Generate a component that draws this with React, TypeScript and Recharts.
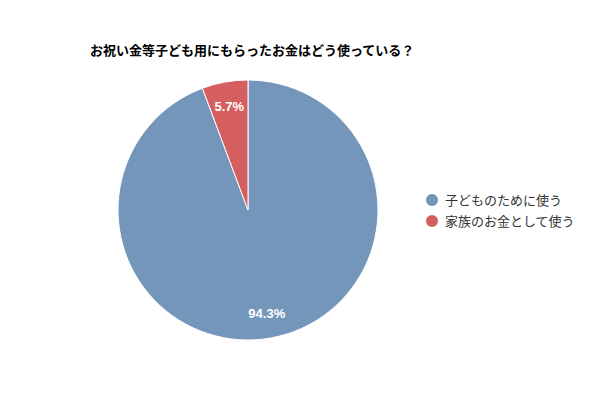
import { Cell, Pie, PieChart } from "recharts";

const categories = ["子どものために使う", "家族のお金として使う"];
const shares = [94.3, 5.7];
const colors = ["#7596bb", "#d55e5e"];

const data = categories.map((name, i) => ({ name, value: shares[i] }));

const RADIAN = Math.PI / 180;

function renderLabel(props: any) {
  const { cx, cy, midAngle, outerRadius, value } = props;
  const r = outerRadius * 0.81;
  const x = cx + r * Math.cos(-midAngle * RADIAN);
  const y = cy + r * Math.sin(-midAngle * RADIAN);
  return (
    <text
      x={x}
      y={y}
      fill="#fff"
      fontSize={13}
      fontWeight="bold"
      fontFamily="'Liberation Sans', Arial, sans-serif"
      textAnchor="middle"
      dominantBaseline="central"
    >
      {value.toFixed(1)}%
    </text>
  );
}

export default function App() {
  return (
    <div
      style={{
        position: "absolute",
        left: 0,
        top: 0,
        width: 600,
        height: 400,
        background: "#fff",
        fontFamily: "'Noto Sans CJK JP', 'Noto Sans', sans-serif",
      }}
    >
      <div
        style={{
          position: "absolute",
          left: 90,
          top: 41,
          fontSize: 13,
          fontWeight: "bold",
          color: "#000",
          lineHeight: "18px",
        }}
      >
        お祝い金等子ども用にもらったお金はどう使っている？
      </div>
      <PieChart width={600} height={400} margin={{ top: 0, right: 0, bottom: 0, left: 0 }}>
        <Pie
          data={data}
          dataKey="value"
          nameKey="name"
          cx={248}
          cy={210}
          outerRadius={130}
          startAngle={90}
          endAngle={-270}
          stroke="#fff"
          strokeWidth={1}
          label={renderLabel}
          labelLine={false}
          isAnimationActive={false}
        >
          {data.map((d, i) => (
            <Cell key={d.name} fill={colors[i]} />
          ))}
        </Pie>
      </PieChart>
      <div style={{ position: "absolute", left: 426, top: 189 }}>
        {data.map((d, i) => (
          <div
            key={d.name}
            style={{ display: "flex", alignItems: "center", height: 21, fontSize: 13, color: "#333" }}
          >
            <span
              style={{
                display: "inline-block",
                width: 12,
                height: 12,
                borderRadius: 6,
                background: colors[i],
                marginRight: 7,
              }}
            />
            {d.name}
          </div>
        ))}
      </div>
    </div>
  );
}
